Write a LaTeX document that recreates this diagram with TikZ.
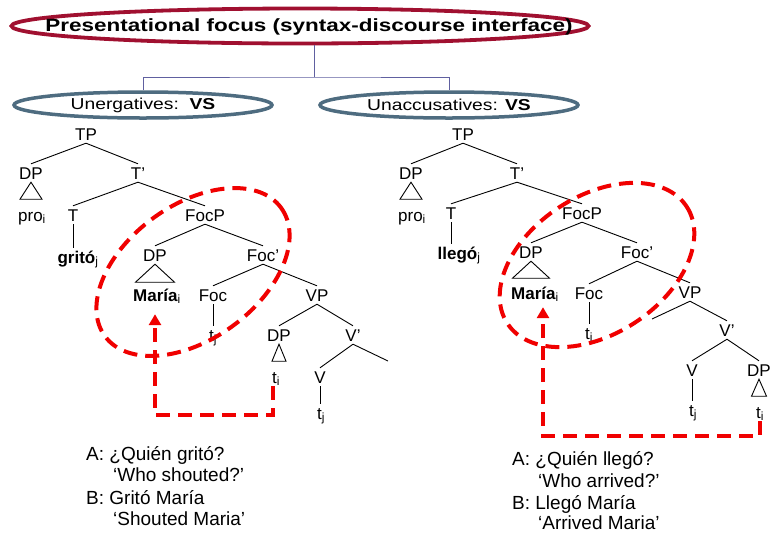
\documentclass[tikz,border=0pt]{standalone}
\usepackage{fontspec}
\setmainfont{Liberation Sans}
\newfontfamily\titlefont[FakeStretch=1.27]{Liberation Sans}
\newfontfamily\pillfont[FakeStretch=1.22]{Liberation Sans}
\usetikzlibrary{arrows.meta,shapes.geometric}

\definecolor{ringred}{RGB}{160,16,48}
\definecolor{pillblue}{RGB}{78,108,128}
\definecolor{linkblue}{RGB}{96,96,160}
\definecolor{moved}{RGB}{240,0,0}

\newcommand{\idx}[1]{\textsubscript{#1}}
% roof triangle under a DP node: half width, height
\newcommand{\roof}[3]{\draw[branch] (#1.south) -- ++(-#2,#3) -- ++(2*#2,0) -- cycle;}

\tikzset{
  ttlring/.style={draw=ringred, line width=3.8pt, ellipse, minimum width=577pt, minimum height=35pt, inner sep=0pt},
  ttltext/.style={font=\titlefont\fontsize{17.7}{20}\selectfont\bfseries, inner sep=0pt},
  pill/.style={draw=pillblue, line width=3.5pt, ellipse, minimum width=258pt, minimum height=26pt, inner sep=0pt, font=\pillfont\fontsize{15.8}{18}\selectfont},
  link/.style={draw=linkblue, line width=0.9pt},
  cat/.style={font=\fontsize{17}{19}\selectfont, inner sep=3pt, text height=12pt, text depth=0pt},
  branch/.style={line width=0.9pt},
  focring/.style={draw=moved, line width=4pt, dash pattern=on 14pt off 8pt},
  mv/.style={draw=moved, line width=4pt, dash pattern=on 14pt off 8pt, -{Triangle[length=11pt,width=12pt]}},
  qa/.style={font=\fontsize{19}{22}\selectfont, inner sep=0pt, anchor=base west},
}

\begin{document}
\begin{tikzpicture}[x=1pt, y=-1pt]
  \useasboundingbox[fill=white] (0,0) rectangle (772,539);

  % heading and the two verb classes
  \node[ttlring] (ttl) at (300,26) {};
  \node[ttltext] (ttltxt) at (309,27) {Presentational focus (syntax-discourse interface)};
  \node[pill] (uneg)  at (143,105) {Unergatives:\ \ \textbf{VS}};
  \node[pill] (unacc) at (449,105) {Unaccusatives: \textbf{VS}};
  \coordinate (bar) at (314,77);
  \draw[link] (ttl.south -| bar) -- (bar);
  \draw[link] (uneg.north) |- (bar) -| (unacc.north);

  % unergative tree
  \node[cat] (ltp)   at (86,134)  {TP};
  \node[cat] (ldpa)  at (31,173)  {DP};
  \node[cat] (lpro)  at (32,215)  {pro\idx{i}};
  \node[cat] (ltb)   at (138,173) {T'};
  \node[cat] (lt)    at (73,215)  {T};
  \node[cat] (lgrit) at (78,257)  {\textbf{gritó}\idx{j}};
  \node[cat] (lfocp) at (205,215) {FocP};
  \node[cat] (ldpb)  at (155,255) {DP};
  \node[cat] (lmar)  at (157,295) {\textbf{María}\idx{i}};
  \node[cat] (lfocb) at (263,255) {Foc'};
  \node[cat] (lfoc)  at (213,295) {Foc};
  \node[cat] (ltj)   at (213,335) {t\idx{j}};
  \node[cat] (lvp)   at (317,295) {VP};
  \node[cat] (ldpc)  at (279,335) {DP};
  \node[cat] (lti)   at (276,377) {t\idx{i}};
  \node[cat] (lvb)   at (353,335) {V'};
  \node[cat] (lv)    at (320,377) {V};
  \node[cat] (ltj2)  at (321,413) {t\idx{j}};
  \coordinate (lvbr) at (388,361);

  \draw[branch] (ltp.south) -- (ldpa.north);
  \draw[branch] (ltp.south) -- (ltb.north);
  \roof{ldpa}{11}{17}
  \draw[branch] (ltb.south) -- (lt.north);
  \draw[branch] (ltb.south) -- (lfocp.north);
  \draw[branch] (lt.south) -- (lt.south |- lgrit.north);
  \draw[branch] (lfocp.south) -- (ldpb.north);
  \draw[branch] (lfocp.south) -- (lfocb.north);
  \roof{ldpb}{19.5}{18}
  \draw[branch] (lfocb.south) -- (lfoc.north);
  \draw[branch] (lfocb.south) -- (lvp.north);
  \draw[branch] (lfoc.south) -- (lfoc.south |- ltj.north);
  \draw[branch] (lvp.south) -- (ldpc.north);
  \draw[branch] (lvp.south) -- (lvb.north);
  \roof{ldpc}{7}{17}
  \draw[branch] (lvb.south) -- (lv.north);
  \draw[branch] (lvb.south) -- (lvbr);
  \draw[branch] (lv.south) -- (lv.south |- ltj2.north);

  % unaccusative tree
  \node[cat] (rtp)   at (463,134) {TP};
  \node[cat] (rdpa)  at (411,173) {DP};
  \node[cat] (rpro)  at (412,215) {pro\idx{i}};
  \node[cat] (rtb)   at (517,173) {T'};
  \node[cat] (rt)    at (451,213) {T};
  \node[cat] (rlleg) at (459,253) {\textbf{llegó}\idx{j}};
  \node[cat] (rfocp) at (582,213) {FocP};
  \node[cat] (rdpb)  at (531,252) {DP};
  \node[cat] (rmar)  at (535,293) {\textbf{María}\idx{i}};
  \node[cat] (rfocb) at (637,252) {Foc'};
  \node[cat] (rfoc)  at (589,293) {Foc};
  \node[cat] (rtj)   at (589,333) {t\idx{j}};
  \node[cat] (rvp)   at (690,292) {VP};
  \node[cat] (rvb)   at (727,330) {V'};
  \node[cat] (rv)    at (692,370) {V};
  \node[cat] (rtj2)  at (693,410) {t\idx{j}};
  \node[cat] (rdpc)  at (759,370) {DP};
  \node[cat] (rti)   at (760,412) {t\idx{i}};
  \coordinate (rvpl) at (652,319);

  \draw[branch] (rtp.south) -- (rdpa.north);
  \draw[branch] (rtp.south) -- (rtb.north);
  \roof{rdpa}{11}{17}
  \draw[branch] (rtb.south) -- (rt.north);
  \draw[branch] (rtb.south) -- (rfocp.north);
  \draw[branch] (rt.south) -- (rt.south |- rlleg.north);
  \draw[branch] (rfocp.south) -- (rdpb.north);
  \draw[branch] (rfocp.south) -- (rfocb.north);
  \roof{rdpb}{18.5}{17}
  \draw[branch] (rfocb.south) -- (rfoc.north);
  \draw[branch] (rfocb.south) -- (rvp.north);
  \draw[branch] (rfoc.south) -- (rfoc.south |- rtj.north);
  \draw[branch] (rvp.south) -- (rvpl);
  \draw[branch] (rvp.south) -- (rvb.north);
  \draw[branch] (rvb.south) -- (rv.north);
  \draw[branch] (rvb.south) -- (rdpc.north);
  \draw[branch] (rv.south) -- (rv.south |- rtj2.north);
  \roof{rdpc}{7.5}{17}

  % focus domains
  \coordinate (lring) at (193,272);
  \coordinate (rring) at (597,265);
  \draw[focring, rotate around={36:(lring)}] (lring) ellipse [x radius=109, y radius=67];
  \draw[focring, rotate around={33:(rring)}] (rring) ellipse [x radius=107, y radius=69];

  % movement of the subject
  \coordinate (lturn) at (273,415);
  \coordinate (lrise) at (155,415);
  \draw[mv] (lti.south -| lturn) -- (lturn) -- (lrise) -- ([yshift=-10pt]lmar.south -| lrise);
  \coordinate (rturn) at (760,436);
  \coordinate (rrise) at (543,436);
  \draw[mv] (rti.south -| rturn) -- (rturn) -- (rrise) -- ([yshift=-5pt]rmar.south -| rrise);

  % question and answer pairs
  \node[qa] (qa1) at (86,460)  {A: ¿Quién gritó?};
  \node[qa] (qa2) at (113,481) {‘Who shouted?’};
  \node[qa] (qa3) at (86,504)  {B: Gritó María};
  \node[qa] (qa4) at (113,525) {‘Shouted Maria’};
  \node[qa] (qb1) at (512,465) {A: ¿Quién llegó?};
  \node[qa] (qb2) at (538,487) {‘Who arrived?’};
  \node[qa] (qb3) at (512,509) {B: Llegó María};
  \node[qa] (qb4) at (538,529) {‘Arrived Maria’};
\end{tikzpicture}
\end{document}
